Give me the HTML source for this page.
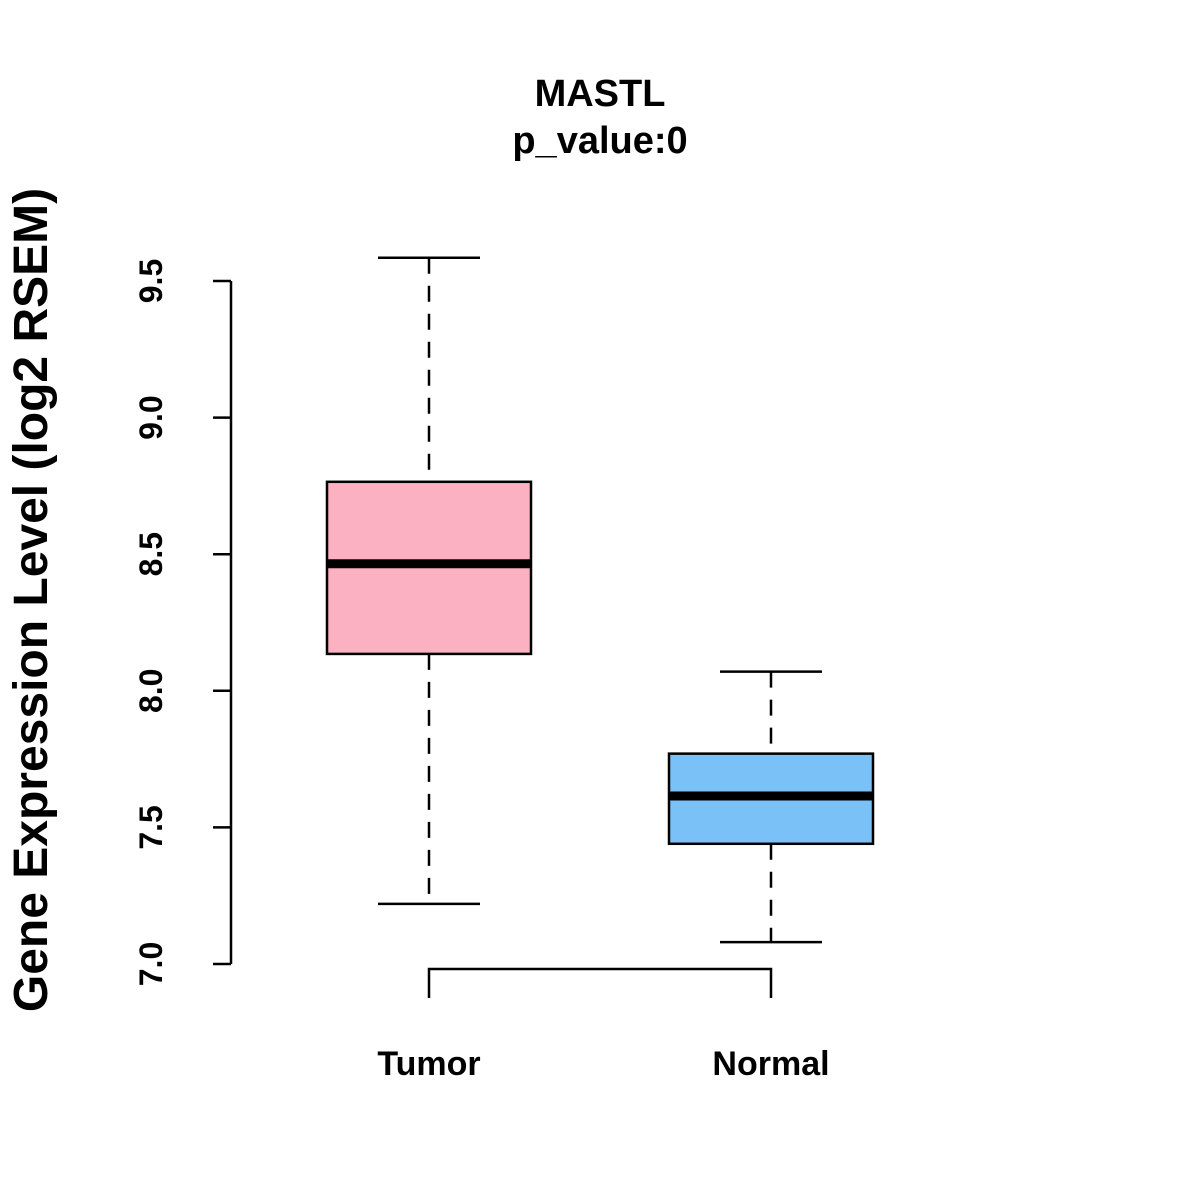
<!DOCTYPE html>
<html><head><meta charset="utf-8"><style>
html,body{margin:0;padding:0;background:#fff;}
svg{display:block;font-family:"Liberation Sans",Arial,sans-serif;font-weight:bold;}
</style></head><body>
<svg id="chart" width="1200" height="1200" viewBox="0 0 1200 1200" xmlns="http://www.w3.org/2000/svg">
<rect width="1200" height="1200" fill="#fff"/>
<text x="600" y="106" font-size="38" text-anchor="middle">MASTL</text>
<text x="600" y="153" font-size="38" text-anchor="middle">p_value:0</text>
<text transform="translate(47,600) rotate(-90)" font-size="48" text-anchor="middle">Gene Expression Level (log2 RSEM)</text>
<g id="axis"></g>
<g id="boxes"></g>
</svg>
<script>
const categories = ["Tumor", "Normal"];
const whiskerLow = [7.22, 7.08];
const q1 = [8.135, 7.44];
const median = [8.465, 7.615];
const q3 = [8.765, 7.77];
const whiskerHigh = [9.585, 8.07];
const fills = ["#FBB1C2", "#79C1F7"];
const yTicks = [7.0, 7.5, 8.0, 8.5, 9.0, 9.5];
const tickLabels = ["7.0", "7.5", "8.0", "8.5", "9.0", "9.5"];

const NS = "http://www.w3.org/2000/svg";
const yScale = v => 964 - (v - 7.0) * 273.2;
const xScale = i => 429 + i * 342;
function mk(tag, attrs, parent) {
  const e = document.createElementNS(NS, tag);
  for (const k in attrs) e.setAttribute(k, attrs[k]);
  parent.appendChild(e);
  return e;
}
const axis = document.getElementById('axis');
const boxes = document.getElementById('boxes');
let l = mk('line', {x1: 231, x2: 231, y1: yScale(yTicks[yTicks.length - 1]), y2: yScale(yTicks[0]), stroke: '#000', 'stroke-width': 2.5}, axis);


yTicks.forEach((t, i) => {
  const y = yScale(t);
  const tk = mk('line', {x1: 213, x2: 231, y1: y, y2: y, stroke: '#000', 'stroke-width': 2.5}, axis);
  
  
  const tx = mk('text', {transform: `translate(162,${y}) rotate(-90)`, 'font-size': 32, 'text-anchor': 'middle'}, axis);
  tx.textContent = tickLabels[i];
  
  
});
categories.forEach((c, i) => {
  const cx = xScale(i), hw = 102, cw = 51;
  const g = mk('g', {}, boxes);
  
  
  mk('line', {x1: cx, x2: cx, y1: yScale(whiskerHigh[i]), y2: yScale(q3[i]), stroke: '#000', 'stroke-width': 2.5, 'stroke-dasharray': '16,12'}, g);
  mk('line', {x1: cx, x2: cx, y1: yScale(q1[i]), y2: yScale(whiskerLow[i]), stroke: '#000', 'stroke-width': 2.5, 'stroke-dasharray': '16,12'}, g);
  mk('line', {x1: cx - cw, x2: cx + cw, y1: yScale(whiskerHigh[i]), y2: yScale(whiskerHigh[i]), stroke: '#000', 'stroke-width': 2.5}, g);
  mk('line', {x1: cx - cw, x2: cx + cw, y1: yScale(whiskerLow[i]), y2: yScale(whiskerLow[i]), stroke: '#000', 'stroke-width': 2.5}, g);
  mk('rect', {x: cx - hw, y: yScale(q3[i]), width: 2 * hw, height: yScale(q1[i]) - yScale(q3[i]), fill: fills[i], stroke: '#000', 'stroke-width': 2.5}, g);
  mk('line', {x1: cx - hw, x2: cx + hw, y1: yScale(median[i]), y2: yScale(median[i]), stroke: '#000', 'stroke-width': 9}, g);
  const t = mk('text', {x: cx, y: 1075, 'font-size': 34, 'text-anchor': 'middle'}, boxes);
  t.textContent = c;
  
  
});
const br = mk('path', {d: `M${xScale(0)},998 V969 H${xScale(1)} V998`, fill: 'none', stroke: '#000', 'stroke-width': 2.5}, boxes);


</script>
</body></html>
